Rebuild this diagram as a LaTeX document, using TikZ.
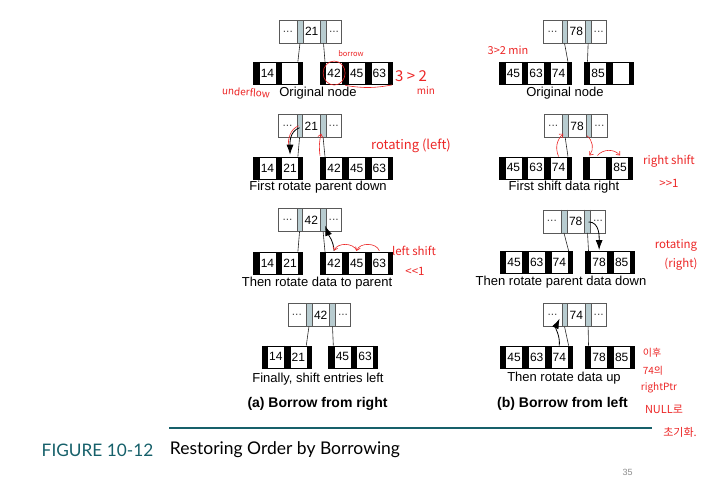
\documentclass[tikz,border=0pt]{standalone}
\usepackage{fontspec}
\setmainfont{Liberation Sans}
\newfontfamily\capfont{Lato}
\newfontfamily\notefont{Noto Sans CJK KR}
\usetikzlibrary{arrows.meta, positioning, shapes.multipart, calc}
\definecolor{sepgray}{RGB}{184,204,208}
\definecolor{figteal}{RGB}{22,96,106}
\definecolor{inkred}{RGB}{236,38,38}
% cell widths of the B-tree nodes
\newcommand{\pb}{\hspace*{4pt}}
\newcommand{\ib}{\hspace*{2.5pt}}
\newcommand{\kc}[1]{\makebox[16.5pt]{#1}}
\newcommand{\sepb}{\hspace*{3.8pt}}
\newcommand{\pkeys}[1]{\makebox[18pt]{\textcolor{black!70}{...}}\nodepart{two}\sepb\nodepart{three}\makebox[17.5pt]{#1}\nodepart{four}\sepb\nodepart{five}\makebox[15pt]{\textcolor{black!70}{...}}}
\newcommand{\twokeys}[2]{\pb\nodepart{two}\kc{#1}\nodepart{three}\ib\nodepart{four}\kc{#2}\nodepart{five}\pb}
\newcommand{\threekeys}[3]{\pb\nodepart{two}\kc{#1}\nodepart{three}\ib\nodepart{four}\kc{#2}\nodepart{five}\ib\nodepart{six}\kc{#3}\nodepart{seven}\pb}

\begin{document}
\begin{tikzpicture}[x=1pt, y=1pt,
  parent/.style={rectangle split, rectangle split horizontal, rectangle split parts=5,
              rectangle split ignore empty parts=false, draw=black!65, inner sep=0pt,
              minimum height=23pt, anchor=north west,
              rectangle split part fill={white,sepgray,white,sepgray,white},
              font=\fontsize{12}{12}\selectfont},
  leaftwo/.style={rectangle split, rectangle split horizontal, rectangle split parts=5,
              rectangle split ignore empty parts=false, draw, inner sep=0pt,
              minimum height=22.3pt, anchor=north west,
              rectangle split part fill={black,white,black,white,black},
              font=\fontsize{12}{12}\selectfont},
  leafthree/.style={leaftwo, rectangle split parts=7,
              rectangle split part fill={black,white,black,white,black,white,black}},
  capt/.style={font=\fontsize{13}{14}\selectfont},
  paneltitle/.style={font=\bfseries\fontsize{14}{15}\selectfont},
  link/.style={line width=0.6pt, black!85},
  blkarrow/.style={line width=0.8pt, -{Latex[length=10pt,width=7pt]}},
  redarrow/.style={inkred, line width=0.6pt, -{Straight Barb[length=3pt,width=5pt]}},
  redline/.style={inkred, line width=0.6pt},
  note/.style={inkred, font=\notefont\fontsize{10}{11}\selectfont, inner sep=0pt}
]
\useasboundingbox (0,0) rectangle (701,-479);

% (a) Borrow from right
\node[parent]    (pa1) at (278.7,-20)   {\pkeys{21}};
\node[leaftwo]   (la1) at (253.3,-61.7) {\twokeys{14}{}};
\node[leafthree] (ra1) at (320,-61.7)   {\threekeys{42}{45}{63}};
\node[capt] (capa1) at (318,-93) {Original node};

\node[parent]    (pa2) at (278.3,-114.3) {\pkeys{21}};
\node[leaftwo]   (la2) at (253.3,-156.7) {\twokeys{14}{21}};
\node[leafthree] (ra2) at (320,-156.7)   {\threekeys{42}{45}{63}};
\node[capt] (capa2) at (318,-187.5) {First rotate parent down};

\node[parent]    (pa3) at (278.3,-208.3) {\pkeys{42}};
\node[leaftwo]   (la3) at (253.3,-251.7) {\twokeys{14}{21}};
\node[leafthree] (ra3) at (320,-251.7)   {\threekeys{42}{45}{63}};
\node[capt] (capa3) at (317,-283) {Then rotate data to parent};

\node[parent]    (pa4) at (287.7,-303.3) {\pkeys{42}};
\node[leaftwo]   (la4) at (261.7,-345.5) {\twokeys{14}{21}};
\node[leaftwo]   (ra4) at (328.3,-345.5) {\twokeys{45}{63}};
\node[capt] (capa4) at (318,-379.5) {Finally, shift entries left};
\node[paneltitle] (titlea) at (317.5,-403.5) {(a) Borrow from right};

\foreach \p in {1,...,4}{
  \draw[link] (pa\p.two south)  -- ([xshift=-5]la\p.north east);
  \draw[link] (pa\p.four south) -- ([xshift=5]ra\p.north west);
}

% (b) Borrow from left
\node[parent]    (pb1) at (543.3,-20)   {\pkeys{78}};
\node[leafthree] (lb1) at (499.3,-61.7) {\threekeys{45}{63}{74}};
\node[leaftwo]   (rb1) at (584,-61.7)   {\twokeys{85}{}};
\node[capt] (capb1) at (565,-93) {Original node};

\node[parent]    (pb2) at (544,-114.3)   {\pkeys{78}};
\node[leafthree] (lb2) at (499.3,-156.5) {\threekeys{45}{63}{74}};
\node[leaftwo]   (rb2) at (583.3,-156.5) {\twokeys{}{85}};
\node[capt] (capb2) at (564,-187.5) {First shift data right};

\node[parent]    (pb3) at (542.7,-209.5) {\pkeys{78}};
\node[leafthree] (lb3) at (500,-251)     {\threekeys{45}{63}{74}};
\node[leaftwo]   (rb3) at (585,-251)     {\twokeys{78}{85}};
\node[capt] (capb3) at (561,-282.5) {Then rotate parent data down};

\node[parent]    (pb4) at (543.3,-303.3) {\pkeys{74}};
\node[leafthree] (lb4) at (500,-345.7)   {\threekeys{45}{63}{74}};
\node[leaftwo]   (rb4) at (585,-345.7)   {\twokeys{78}{85}};
\node[capt] (capb4) at (564,-378.5) {Then rotate data up};
\node[paneltitle] (titleb) at (562.5,-403.5) {(b) Borrow from left};

\foreach \p in {1,...,4}{
  \draw[link] (pb\p.two south) -- ([xshift=-3.5]lb\p.north east);
}
\foreach \p in {1,3,4}{
  \draw[link] (pb\p.four south) -- ([xshift=3.5]rb\p.north west);
}

% textbook arrows
\draw[redline] ([xshift=-1,yshift=12]pa2.two south) to[out=205,in=95] ([xshift=-1.5,yshift=9]la2.four north);
\draw[blkarrow] ([yshift=10]pa2.two south) to[out=200,in=90] ([yshift=2]la2.four north);
\draw[blkarrow] ([yshift=1]ra3.two north) to[out=95,in=-70] ([xshift=2,yshift=6]pa3.four south);
\draw[blkarrow] ([xshift=1,yshift=11]pb3.four south) to[out=0,in=90] ([yshift=1]rb3.two north);
\draw[blkarrow] (lb4.six north) to[out=85,in=-115] ([xshift=-5,yshift=8]pb4.two south);

% handwritten notes
\draw[redline] ($(ra1.two north)!0.5!(ra1.two south)$) ellipse (11 and 12);
\draw[redline] ([yshift=-1]ra1.three south) to[bend right=10] ([yshift=-0.5]ra1.south east);
\node[note, font=\notefont\fontsize{7.5}{8}\selectfont] (nborrow) at (351,-54) {borrow};
\node[note, font=\notefont\fontsize{15}{16}\selectfont] (nratio) at (411,-76) {3 > 2};
\node[note, font=\notefont\fontsize{10}{11}\selectfont] (nmin) at (426,-91) {min};
\node[note, rotate=-4] (nunder) at (246,-92) {underflow};
\node[note, font=\notefont\fontsize{11}{12}\selectfont] (nratiob) at (508,-50) {3>2 min};

\draw[redarrow] ([yshift=1]ra2.north west) to[bend left=10] ([xshift=-2,yshift=4]pa2.four south);
\node[note, font=\notefont\fontsize{13}{14}\selectfont] (nrotl) at (411,-146) {rotating (left)};

\draw[redarrow] ([yshift=1]ra3.six north) to[bend right=70] ([yshift=1]ra3.four north);
\draw[redarrow] ([yshift=1]ra3.four north) to[bend right=70] ([yshift=1]ra3.two north);
\node[note, font=\notefont\fontsize{11.5}{12}\selectfont] (nlsh) at (414,-251) {left shift};
\node[note, font=\notefont\fontsize{11.5}{12}\selectfont] (nlsh1) at (415,-271) {<<1};

\draw[redarrow] (lb2.six north) to[bend left=35] ([xshift=-2,yshift=4]pb2.two south);
\draw[redarrow] ([xshift=-2,yshift=2]pb2.four south) to[bend left=45] ([xshift=-8,yshift=1]rb2.two north);
\draw[redarrow] ([yshift=1]rb2.two north) to[bend left=50] ([yshift=1]rb2.four north);
\node[note, font=\notefont\fontsize{11.5}{12}\selectfont] (nrsh) at (669,-161.5) {right shift};
\node[note, font=\notefont\fontsize{11.5}{12}\selectfont] (nrsh1) at (669,-183) {>>1};

\node[note, font=\notefont\fontsize{11.5}{12}\selectfont] (nrotr) at (676,-245) {rotating};
\node[note, font=\notefont\fontsize{11.5}{12}\selectfont] (nrotr2) at (681,-264) {(right)};

\node[note, font=\notefont\fontsize{10}{11}\selectfont] (nk1) at (652,-353) {이후};
\node[note, font=\notefont\fontsize{10}{11}\selectfont] (nk2) at (653,-371) {74의};
\node[note, font=\notefont\fontsize{10}{11}\selectfont] (nk3) at (659,-387.5) {rightPtr};
\node[note, font=\notefont\fontsize{11}{12}\selectfont] (nk4) at (664,-409) {NULL로};
\node[note, font=\notefont\fontsize{11}{12}\selectfont] (nk5) at (680,-432) {초기화.};

% figure caption
\draw[figteal, line width=1.4pt] (169.3,-428) -- (651.7,-428);
\node[text=figteal, inner sep=0pt] (fignum) at (97.5,-450) {\resizebox{111.5pt}{!}{\capfont\fontsize{18}{20}\selectfont FIGURE 10-12}};
\node[inner sep=0pt] (figname) at (285,-450) {\resizebox{230pt}{!}{\capfont\fontsize{18}{20}\selectfont Restoring Order by Borrowing}};
\node[text=black!45, font=\fontsize{9}{10}\selectfont] (pagenum) at (627.5,-472) {35};
\end{tikzpicture}
\end{document}
